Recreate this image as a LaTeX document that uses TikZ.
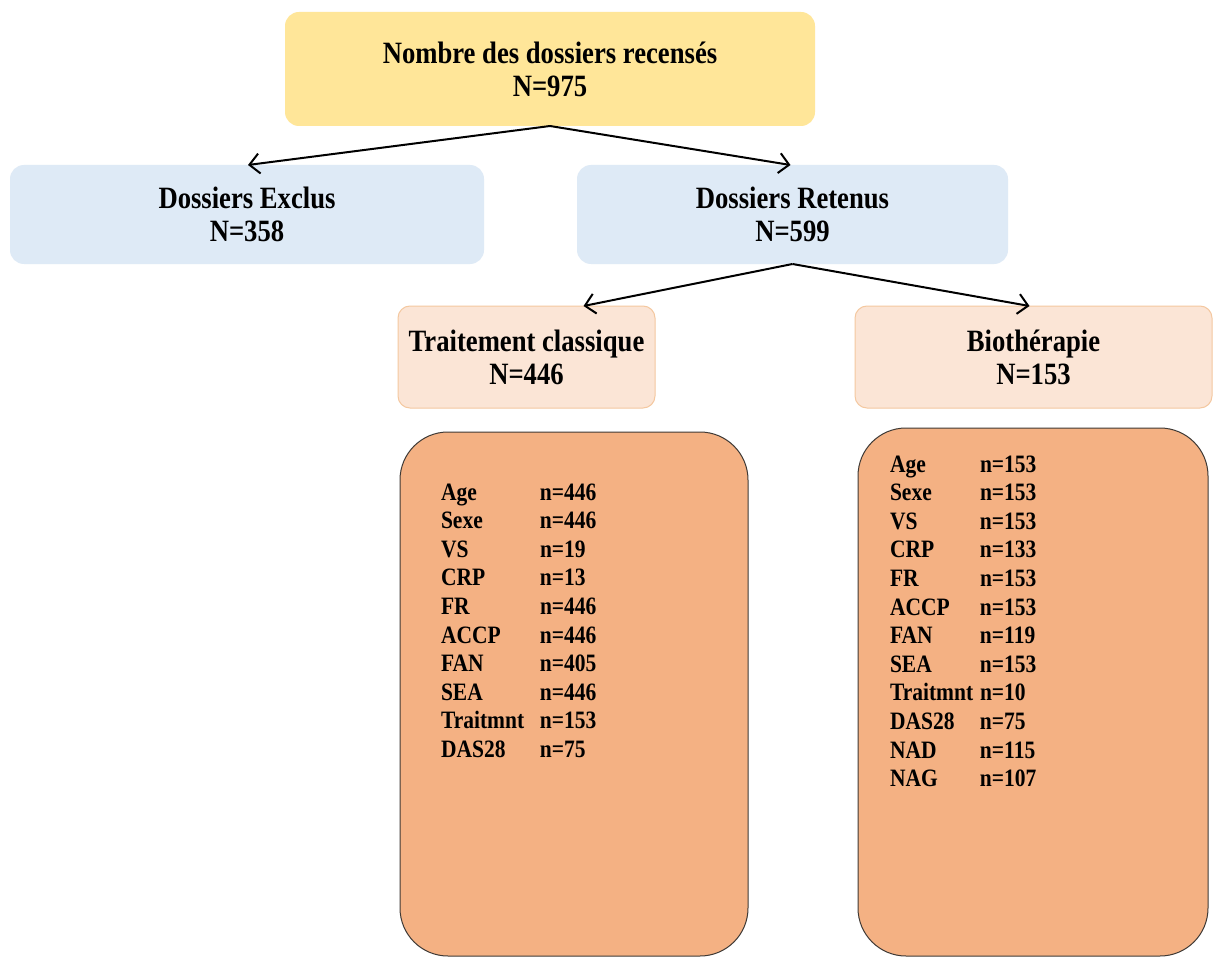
\documentclass[tikz,border=0pt]{standalone}
\usepackage{fontspec}
\setmainfont{Liberation Serif}[FakeStretch=0.86]
\usetikzlibrary{arrows.meta,calc}
\definecolor{topfill}{HTML}{FFE699}
\definecolor{bluefill}{HTML}{DEEAF6}
\definecolor{peachfill}{HTML}{FBE5D6}
\definecolor{peachdraw}{HTML}{F4C8A0}
\definecolor{bigfill}{HTML}{F4B183}
\definecolor{bigdraw}{HTML}{3F3A36}
\begin{document}
\begin{tikzpicture}[x=1pt,y=-1pt,
  every node/.style={inner sep=0pt,outer sep=0pt},
  headtext/.style={align=center,font=\bfseries\fontsize{31}{33}\selectfont},
  topbox/.style={headtext,fill=topfill,rounded corners=14pt},
  bluebox/.style={headtext,fill=bluefill,rounded corners=14pt},
  peachbox/.style={headtext,fill=peachfill,draw=peachdraw,line width=1pt,rounded corners=12pt},
  bigbox/.style={fill=bigfill,draw=bigdraw,line width=1pt,rounded corners=48pt},
  listtext/.style={anchor=base west,align=left,font=\bfseries\fontsize{25}{28.6}\selectfont},
  arr/.style={line width=2pt,-{Straight Barb[length=10pt,width=20pt,line width=2pt]}}
]
\useasboundingbox (0,0) rectangle (1213,960);
\fill[white] (0,0) rectangle (1213,960);

\node[topbox,minimum width=530pt,minimum height=114pt] (top) at (550,69) {Nombre des dossiers recensés\\N=975};
\node[bluebox,minimum width=474pt,minimum height=99pt] (excl) at (247,214.5) {Dossiers Exclus\\N=358};
\node[bluebox,minimum width=431pt,minimum height=99pt] (ret) at (792.5,214.5) {Dossiers Retenus\\N=599};
\node[peachbox,minimum width=257pt,minimum height=102pt] (trait) at (526.5,357) {Traitement classique\\N=446};
\node[peachbox,minimum width=357pt,minimum height=102pt] (bio) at (1033.5,357) {Biothérapie\\N=153};

\node[bigbox,minimum width=348pt,minimum height=524pt] (big1) at (574,694) {};
\node[bigbox,minimum width=350pt,minimum height=528pt] (big2) at (1033,692) {};

\node[listtext] (list1) at (441,500) {\begin{tabular}[t]{@{}p{99pt}@{}l@{}}
Age & n=446\\
Sexe & n=446\\
VS & n=19\\
CRP & n=13\\
FR & n=446\\
ACCP & n=446\\
FAN & n=405\\
SEA & n=446\\
Traitmnt & n=153\\
DAS28 & n=75
\end{tabular}};

\node[listtext] (list2) at (890,472) {\begin{tabular}[t]{@{}p{90pt}@{}l@{}}
Age & n=153\\
Sexe & n=153\\
VS & n=153\\
CRP & n=133\\
FR & n=153\\
ACCP & n=153\\
FAN & n=119\\
SEA & n=153\\
Traitmnt & n=10\\
DAS28 & n=75\\
NAD & n=115\\
NAG & n=107
\end{tabular}};

\draw[arr] (top.south) -- ($(excl.north)+(1,0)$);
\draw[arr] (top.south) -- ($(ret.north)+(-2,0)$);
\draw[arr] (ret.south) -- ($(trait.north)+(57,0)$);
\draw[arr] (ret.south) -- ($(bio.north)+(-4,0)$);
\end{tikzpicture}
\end{document}
